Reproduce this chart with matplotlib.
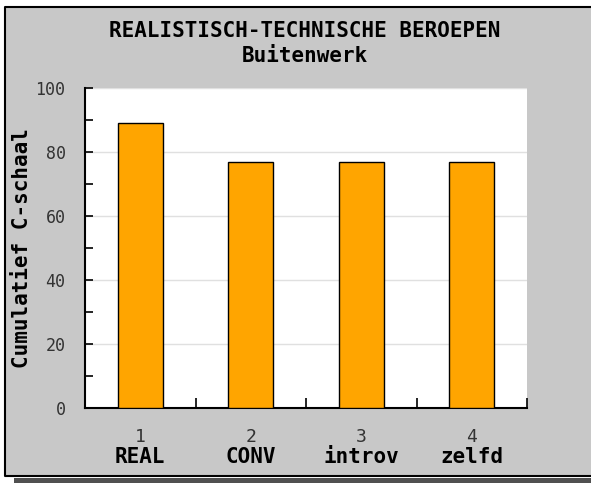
import numpy as np
import matplotlib.pyplot as plt
from matplotlib.patches import Rectangle
from matplotlib.lines import Line2D
from matplotlib.transforms import blended_transform_factory

categories = ['REAL', 'CONV', 'introv', 'zelfd']
numbers = ['1', '2', '3', '4']
values = [89, 77, 77, 77]
yticks = [0, 20, 40, 60, 80, 100]

W, H = 591, 483
fig = plt.figure(figsize=(W / 100, H / 100), dpi=100, facecolor='white')

# grey panel, open to the right, with a dark shadow underneath
fig.patches.append(Rectangle((14 / W, 0), 1, 5 / H, transform=fig.transFigure,
                             facecolor='#505050', edgecolor='none', zorder=0))
fig.patches.append(Rectangle((5 / W, (H - 476) / H), 1, 469 / H, transform=fig.transFigure,
                             facecolor='#c8c8c8', edgecolor='none', zorder=1))
left, right = 5 / W, 1.0
bottom, top = (H - 476) / H, (H - 7) / H
fig.lines.append(Line2D([right, left, left, right], [top, top, bottom, bottom],
                        transform=fig.transFigure, color='black', linewidth=1.5, zorder=1.5))

ax = fig.add_axes([85 / W, (H - 408) / H, 442 / W, 320 / H])
ax.set_facecolor('white')
ax.set_zorder(2)

x = np.arange(len(values))
ax.bar(x, values, width=0.41, color='#ffa500', edgecolor='black', linewidth=1, zorder=3)

ax.set_xlim(-0.5, len(values) - 0.5)
ax.set_ylim(0, 100)
ax.set_yticks(yticks)
ax.set_yticks(np.arange(10, 100, 20), minor=True)
ax.yaxis.grid(True, color='#e0e0e0', linewidth=1)
ax.set_axisbelow(True)
ax.tick_params(axis='y', which='both', direction='in', length=6, width=1.2,
               labelsize=12, pad=14, labelcolor='#333333')
for lbl in ax.get_yticklabels():
    lbl.set_family('DejaVu Sans Mono')

ax.set_xticks(x[:-1] + 0.5)
ax.set_xticks([len(values) - 0.5], minor=True)
ax.tick_params(axis='x', which='both', direction='in', length=7, width=1.2,
               labelbottom=False)
ax.spines['top'].set_visible(False)
ax.spines['right'].set_visible(False)
ax.spines['left'].set_linewidth(1.5)
ax.spines['bottom'].set_linewidth(1.5)

tr = blended_transform_factory(ax.transData, fig.transFigure)
for i in range(len(categories)):
    ax.text(x[i], (H - 437) / H, numbers[i], transform=tr, ha='center', va='center',
            family='DejaVu Sans Mono', fontsize=13, color='#333333')
    ax.text(x[i], (H - 457) / H, categories[i], transform=tr, ha='center', va='center',
            family='DejaVu Sans Mono', fontweight='bold', fontsize=15)

fig.text(305 / W, (H - 31) / H, 'REALISTISCH-TECHNISCHE BEROEPEN', ha='center', va='center',
         family='DejaVu Sans Mono', fontweight='bold', fontsize=15)
fig.text(305 / W, (H - 56) / H, 'Buitenwerk', ha='center', va='center',
         family='DejaVu Sans Mono', fontweight='bold', fontsize=15)
fig.text(22 / W, (H - 248) / H, 'Cumulatief C-schaal', rotation=90, ha='center', va='center',
         family='DejaVu Sans Mono', fontweight='bold', fontsize=15)

fig.savefig('out.png', dpi=100, facecolor='white')
